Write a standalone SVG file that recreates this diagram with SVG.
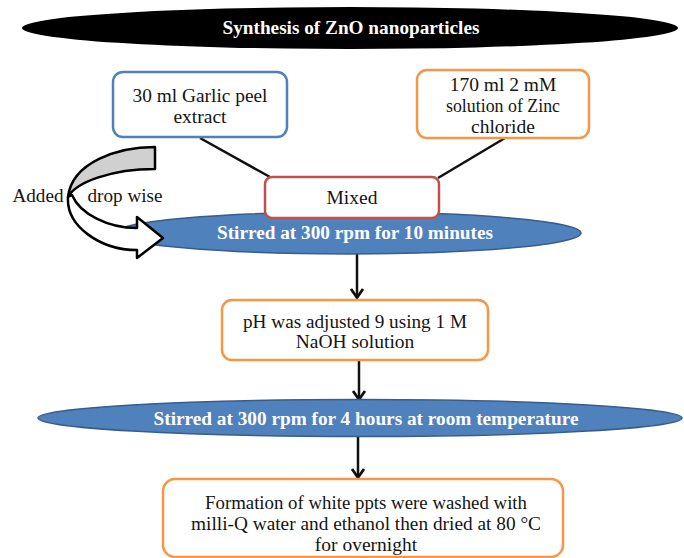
<svg xmlns="http://www.w3.org/2000/svg" width="684" height="558" viewBox="0 0 684 558">
<defs>
<style>
.t{font-family:"Liberation Serif","Times New Roman",serif;font-size:19.5px;fill:#141414;text-anchor:middle}
.b{font-family:"Liberation Serif","Times New Roman",serif;font-size:18.5px;font-weight:bold;fill:#ffffff;text-anchor:middle}
.ell{fill:#4f81bd;stroke:#385d8a;stroke-width:1.5}
.box{fill:#ffffff;stroke-width:2.5}
.blue{stroke:#4f81bd}
.orange{stroke:#f79646}
.red{stroke:#c0504d}
.ln{stroke:#111;stroke-width:2.5;fill:none}
.curv{stroke:#000;stroke-width:2.5;stroke-linejoin:round}
</style>
<marker id="ah" markerUnits="userSpaceOnUse" markerWidth="16" markerHeight="16" viewBox="0 0 16 16" refX="14" refY="8" orient="auto">
<path d="M5,2 L13.5,8 L5,14" fill="none" stroke="#111" stroke-width="2.8"/>
</marker>
</defs>

<g id="title">
<ellipse cx="350" cy="28" rx="328" ry="21" fill="#000"/>
<text class="b" x="351" y="34" textLength="257" lengthAdjust="spacingAndGlyphs">Synthesis of ZnO nanoparticles</text>
</g>

<g id="connectors">
<line class="ln" x1="200" y1="138" x2="270" y2="177"/>
<line class="ln" x1="505" y1="138" x2="438" y2="178"/>
<line class="ln" x1="357" y1="252" x2="357" y2="298" marker-end="url(#ah)"/>
<line class="ln" x1="359" y1="360" x2="359" y2="400" marker-end="url(#ah)"/>
<line class="ln" x1="358" y1="437" x2="358" y2="478" marker-end="url(#ah)"/>
</g>

<g id="garlic">
<rect class="box blue" x="113" y="72" width="174" height="65" rx="10"/>
<text class="t" x="200" y="102" textLength="135" lengthAdjust="spacingAndGlyphs">30 ml Garlic peel</text>
<text class="t" x="200" y="123">extract</text>
</g>

<g id="zinc">
<rect class="box orange" x="417" y="70" width="172" height="68" rx="10"/>
<text class="t" x="503" y="91">170 ml 2 mM</text>
<text class="t" x="503" y="112" textLength="114" lengthAdjust="spacingAndGlyphs">solution of Zinc</text>
<text class="t" x="503" y="133">chloride</text>
</g>

<g id="stir1">
<ellipse class="ell" cx="348" cy="233" rx="233" ry="21"/>
<text class="b" x="355" y="239" textLength="276" lengthAdjust="spacingAndGlyphs">Stirred at 300 rpm for 10 minutes</text>
</g>

<g id="mixed">
<rect class="box red" x="265" y="177" width="174" height="41" rx="7"/>
<text class="t" x="352" y="204">Mixed</text>
</g>

<g id="dropwise">
<path class="curv" fill="#d0d0d0" d="M155,147 C118,147 72,162 68,197 C76,182 112,169 155,169 Z"/>
<path class="curv" fill="#ffffff" d="M68,197 C66,226 100,250 137,250 L137,258 L163,238 L137,217 L137,228 C108,228 80,214 72,195 Z"/>
<text class="t" x="38" y="202" textLength="51" lengthAdjust="spacingAndGlyphs">Added</text>
<text class="t" x="125" y="202" textLength="75" lengthAdjust="spacingAndGlyphs">drop wise</text>
</g>

<g id="ph">
<rect class="box orange" x="222" y="300" width="266" height="60" rx="10"/>
<text class="t" x="355" y="328" textLength="224" lengthAdjust="spacingAndGlyphs">pH was adjusted 9 using 1 M</text>
<text class="t" x="355" y="348">NaOH solution</text>
</g>

<g id="stir2">
<ellipse class="ell" cx="360" cy="418" rx="322" ry="18.5"/>
<text class="b" x="366" y="425" textLength="425" lengthAdjust="spacingAndGlyphs">Stirred at 300 rpm for 4 hours at room temperature</text>
</g>

<g id="final">
<rect class="box orange" x="163" y="479" width="400" height="78" rx="12"/>
<text class="t" x="366" y="509" textLength="322" lengthAdjust="spacingAndGlyphs">Formation of white ppts were washed with</text>
<text class="t" x="366" y="530" textLength="350" lengthAdjust="spacingAndGlyphs">milli-Q water and ethanol then dried at 80 °C</text>
<text class="t" x="366" y="551">for overnight</text>
</g>
</svg>
